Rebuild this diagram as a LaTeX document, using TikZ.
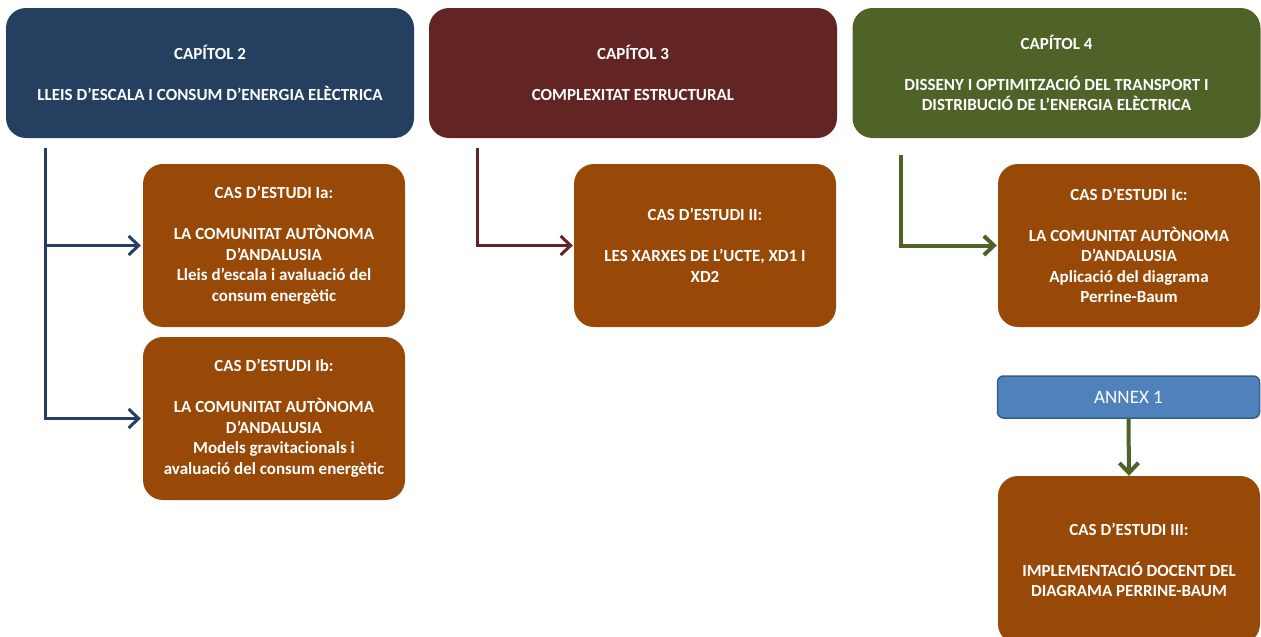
\documentclass[tikz,border=0pt]{standalone}
\usepackage{fontspec}
\setmainfont{Carlito}
\usetikzlibrary{arrows.meta}
\definecolor{capblue}{HTML}{243F60}
\definecolor{capred}{HTML}{632523}
\definecolor{capgreen}{HTML}{4F6228}
\definecolor{casbrown}{HTML}{984807}
\definecolor{annexblue}{HTML}{4F81BD}
\definecolor{annexborder}{HTML}{385D8A}
\tikzset{
  box/.style={rounded corners=20pt, text=white, align=center, inner sep=0pt,
    font=\fontsize{17}{20.5}\selectfont\bfseries},
  capbox/.style={box, minimum width=408pt, minimum height=130pt},
  casbox/.style={box, fill=casbrown, minimum width=262pt, minimum height=163pt},
  conn/.style={line width=3pt, -{Straight Barb[length=10pt,width=19pt,line width=3pt]}},
  gconn/.style={line width=4pt, -{Straight Barb[length=10pt,width=19pt,line width=4pt]}},
}
\begin{document}
\begin{tikzpicture}[x=1pt,y=-1pt]
\useasboundingbox (0,0) rectangle (1261,637);
\fill[white] (0,0) rectangle (1261,637);
% chapter boxes
\node[capbox, fill=capblue] (c2) at (210,73) {CAPÍTOL 2\\[20.5pt]LLEIS D’ESCALA I CONSUM D’ENERGIA ELÈCTRICA};
\node[capbox, fill=capred] (c3) at (633,73) {CAPÍTOL 3\\[20.5pt]COMPLEXITAT ESTRUCTURAL};
\node[capbox, fill=capgreen] (c4) at (1056.5,73) {CAPÍTOL 4\\[20.5pt]DISSENY I OPTIMITZACIÓ DEL TRANSPORT I\\DISTRIBUCIÓ DE L’ENERGIA ELÈCTRICA};
% case boxes
\node[casbox] (ia) at (274,245.5) {CAS D’ESTUDI Ia:\\[20.5pt]LA COMUNITAT AUTÒNOMA\\D’ANDALUSIA\\Lleis d’escala i avaluació del\\consum energètic};
\node[casbox] (ib) at (274,418.5) {CAS D’ESTUDI Ib:\\[20.5pt]LA COMUNITAT AUTÒNOMA\\D’ANDALUSIA\\Models gravitacionals i\\avaluació del consum energètic};
\node[casbox] (ii) at (705,245.5) {CAS D’ESTUDI II:\\[20.5pt]LES XARXES DE L’UCTE, XD1 I\\XD2};
\node[casbox] (ic) at (1129,245.5) {CAS D’ESTUDI Ic:\\[20.5pt]LA COMUNITAT AUTÒNOMA\\D’ANDALUSIA\\Aplicació del diagrama\\Perrine-Baum};
\node[casbox, minimum height=168pt] (iii) at (1129,560) {CAS D’ESTUDI III:\\[20.5pt]IMPLEMENTACIÓ DOCENT DEL\\DIAGRAMA PERRINE-BAUM};
% annex
\node[draw=annexborder, line width=1.5pt, fill=annexblue, rounded corners=6pt, text=white,
  minimum width=262pt, minimum height=42pt, inner sep=0pt,
  font=\fontsize{19}{22}\selectfont] (ax) at (1128.5,397) {ANNEX 1};
% connectors
\coordinate (s2) at (45,148);
\coordinate (s3) at (477,148);
\coordinate (s4) at (901,155);
\draw[conn, capblue] (s2) |- ([xshift=-2pt]ia.west);
\draw[conn, capblue] (s2) |- ([xshift=-2pt]ib.west);
\draw[conn, capred] (s3) |- ([xshift=-1pt]ii.west);
\draw[gconn, capgreen] (s4) |- ([xshift=-1pt]ic.west);
\draw[gconn, capgreen] (ax.south) -- (iii.north);
\end{tikzpicture}
\end{document}
